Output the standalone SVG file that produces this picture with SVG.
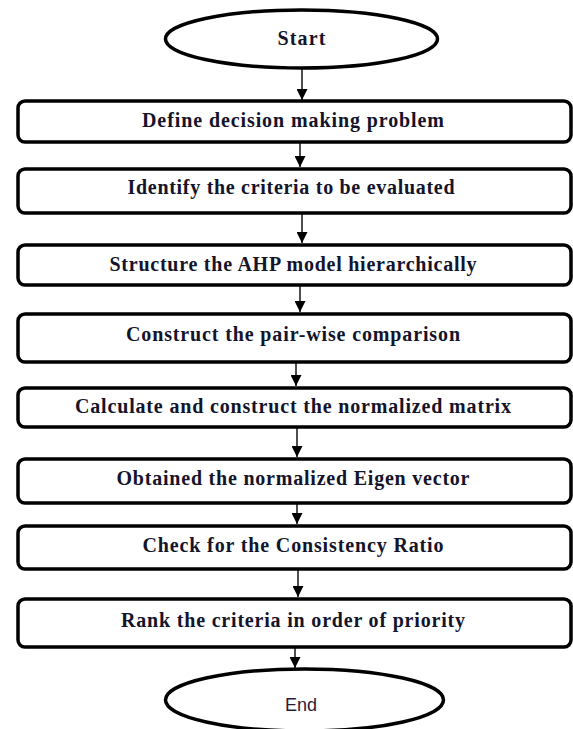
<svg xmlns="http://www.w3.org/2000/svg" width="573" height="729" viewBox="0 0 573 729">
<style>
.box{fill:#fff;stroke:#000;stroke-width:3.5}
.term{fill:#fff;stroke:#000;stroke-width:3.5}
.lbl{font-family:"Liberation Serif","Times New Roman",serif;font-weight:bold;font-size:20px;fill:#14142a;text-anchor:middle}
.end{font-family:"Liberation Sans",Arial,sans-serif;font-size:18px;fill:#2a1a3a;text-anchor:middle}
.conn{stroke:#222;stroke-width:1.6;fill:none}
</style>
<defs>
<marker id="ah" markerUnits="userSpaceOnUse" viewBox="0 0 10 10" refX="10" refY="5" markerWidth="11" markerHeight="11" orient="auto">
<path d="M0,0 L10,5 L0,10 z" fill="#000"/>
</marker>
</defs>
<rect width="573" height="729" fill="#fff"/>
<g id="connectors">
<line class="conn" x1="302" y1="68" x2="302" y2="100" marker-end="url(#ah)"/>
<line class="conn" x1="300" y1="142" x2="300" y2="167" marker-end="url(#ah)"/>
<line class="conn" x1="302" y1="214" x2="302" y2="243" marker-end="url(#ah)"/>
<line class="conn" x1="300" y1="286" x2="300" y2="312" marker-end="url(#ah)"/>
<line class="conn" x1="296" y1="363" x2="296" y2="386" marker-end="url(#ah)"/>
<line class="conn" x1="297" y1="428" x2="297" y2="457" marker-end="url(#ah)"/>
<line class="conn" x1="297" y1="504" x2="297" y2="524" marker-end="url(#ah)"/>
<line class="conn" x1="298" y1="570" x2="298" y2="597" marker-end="url(#ah)"/>
<line class="conn" x1="295" y1="648" x2="295" y2="668" marker-end="url(#ah)"/>
</g>
<g id="start">
<ellipse class="term" cx="301.5" cy="39" rx="136" ry="29"/>
<text class="lbl" x="301.5" y="45" textLength="48">Start</text>
</g>
<g id="step1">
<rect class="box" x="18" y="101" width="553" height="41" rx="7"/>
<text class="lbl" x="293" y="127" textLength="302" lengthAdjust="spacing">Define decision making problem</text>
</g>
<g id="step2">
<rect class="box" x="18" y="169" width="553" height="44" rx="7"/>
<text class="lbl" x="291" y="194" textLength="327" lengthAdjust="spacing">Identify the criteria  to be evaluated</text>
</g>
<g id="step3">
<rect class="box" x="18" y="245" width="553" height="40" rx="7"/>
<text class="lbl" x="293" y="271" textLength="367" lengthAdjust="spacing">Structure the AHP model hierarchically</text>
</g>
<g id="step4">
<rect class="box" x="18" y="314" width="553" height="48" rx="7"/>
<text class="lbl" x="293" y="341" textLength="334" lengthAdjust="spacing">Construct the pair-wise comparison</text>
</g>
<g id="step5">
<rect class="box" x="18" y="388" width="553" height="39" rx="7"/>
<text class="lbl" x="293" y="413" textLength="436" lengthAdjust="spacing">Calculate and construct the normalized matrix</text>
</g>
<g id="step6">
<rect class="box" x="18" y="459" width="553" height="44" rx="7"/>
<text class="lbl" x="293" y="485" textLength="353" lengthAdjust="spacing">Obtained the normalized Eigen vector</text>
</g>
<g id="step7">
<rect class="box" x="18" y="526" width="553" height="43" rx="7"/>
<text class="lbl" x="293" y="552" textLength="301" lengthAdjust="spacing">Check for the Consistency Ratio</text>
</g>
<g id="step8">
<rect class="box" x="18" y="599" width="553" height="48" rx="7"/>
<text class="lbl" x="293" y="627" textLength="344" lengthAdjust="spacing">Rank the criteria in order of priority</text>
</g>
<g id="end">
<ellipse class="term" cx="304.5" cy="700" rx="139" ry="31"/>
<text class="end" x="301" y="711">End</text>
</g>
</svg>
